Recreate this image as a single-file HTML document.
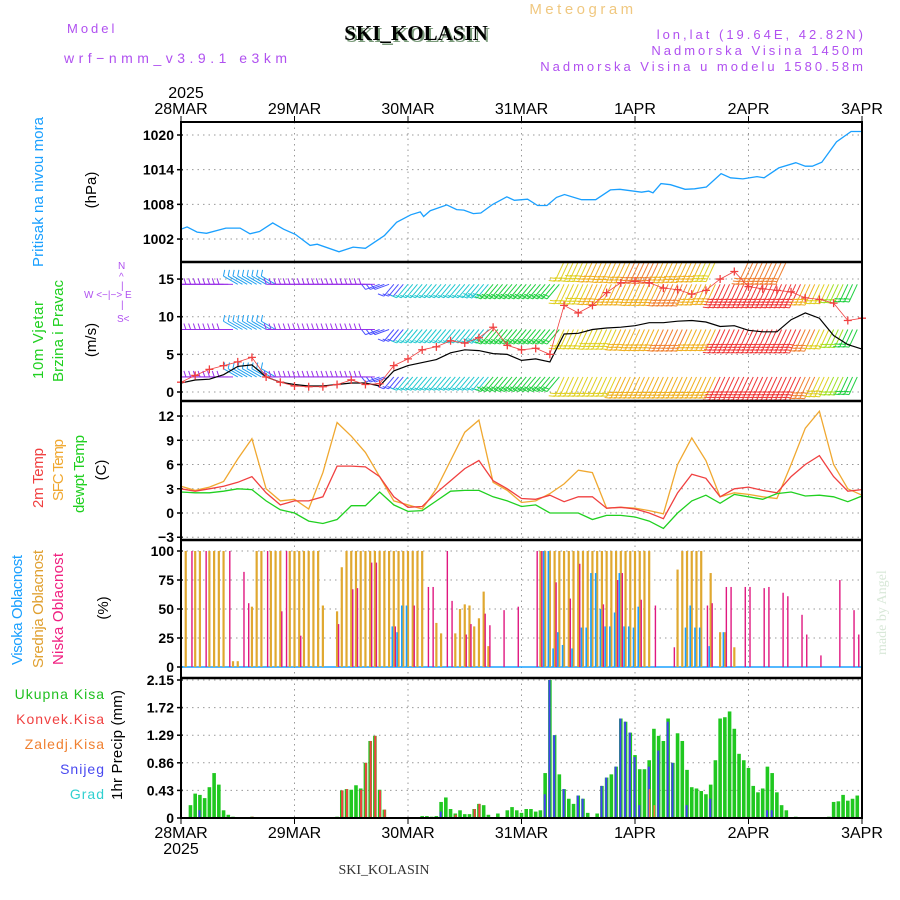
<!DOCTYPE html>
<html><head><meta charset="utf-8">
<style>
html,body{margin:0;padding:0;background:#fff;}
svg{display:block;font-family:"Liberation Sans",sans-serif;}
.hdr{font-family:"Liberation Sans",sans-serif;letter-spacing:3px;font-size:13px;fill:#b050f0;}
.tick{font-size:14px;fill:#000;text-anchor:end;font-weight:bold;}
.date{font-size:16px;fill:#000;text-anchor:middle;}
.grid{stroke:#999;stroke-width:1;stroke-dasharray:1.5,4;}
</style></head>
<body>
<svg id="chart" width="900" height="900" viewBox="0 0 900 900" xmlns="http://www.w3.org/2000/svg">
<text class="hdr" x="67" y="33">Model</text>
<text class="hdr" x="64" y="63" style="font-size:14px;letter-spacing:4.5px">wrf−nmm_v3.9.1 e3km</text>
<text x="418" y="42" text-anchor="middle" style="font-family:'Liberation Serif',serif;font-weight:bold;font-size:21px;fill:#7a9a7a">SKI_KOLASIN</text>
<text x="416" y="40" text-anchor="middle" style="font-family:'Liberation Serif',serif;font-weight:bold;font-size:21px;fill:#000">SKI_KOLASIN</text>
<text class="hdr" x="583" y="14" text-anchor="middle" style="fill:#f0c880;font-size:15px;letter-spacing:3.5px">Meteogram</text>
<text class="hdr" x="866" y="39" text-anchor="end">lon,lat (19.64E, 42.82N)</text>
<text class="hdr" x="866" y="55" text-anchor="end">Nadmorska Visina 1450m</text>
<text class="hdr" x="866" y="71" text-anchor="end">Nadmorska Visina u modelu 1580.58m</text>
<text x="186" y="98" class="date">2025</text>
<text x="384" y="874" text-anchor="middle" style="font-family:'Liberation Serif',serif;font-size:14px;fill:#333">SKI_KOLASIN</text>
<text transform="translate(886,655) rotate(-90)" style="font-family:'Liberation Serif',serif;font-size:14px;fill:#d8e8d8">made by Angel</text>
<g id="labels"></g>
<g id="plots"></g>
</svg>
<script>
// ---- DATA ----
const pHours=[0,1.3,3.4,5.4,9.5,12.5,14.6,16.6,19.4,21.7,24.2,27.3,28.8,33.4,36.4,39,43,45.6,48.6,50.6,51.3,52.7,56.2,58.3,59.8,61.8,63.4,65.9,68.9,70.5,73.3,75.4,77.4,79.4,81.1,84.7,87.7,90.8,92.8,97.4,98.9,99.8,101.5,103.5,106.6,108.6,111.1,114.2,116.2,118.8,121.8,123.3,126.4,130,132,133.5,135.5,138.6,141.7,144];
const pValues=[1003.7,1004.1,1003.2,1003.0,1003.9,1003.9,1002.9,1003.3,1004.8,1003.7,1002.8,1000.9,1001.1,999.8,1000.6,1000.4,1002.6,1004.9,1006.2,1006.7,1005.9,1006.9,1007.9,1007.1,1007.0,1006.4,1006.5,1008.0,1009.3,1008.7,1008.9,1007.8,1007.8,1009.2,1009.7,1008.8,1008.8,1010.5,1010.6,1010.1,1010.3,1010.0,1011.6,1011.4,1010.6,1010.7,1011.0,1013.3,1012.6,1012.4,1012.8,1012.6,1014.3,1015.2,1014.6,1014.6,1015.3,1018.8,1020.6,1020.6];
const pTicks=[1020,1014,1008,1002];
const dayLabels=["28MAR","29MAR","30MAR","31MAR","1APR","2APR","3APR"];
const sfcTemp=[3.3,2.8,3.2,3.9,6.7,9.2,3.0,1.5,1.7,0.5,5.0,11.2,9.5,7.5,4.5,1.5,1.0,0.5,3.0,6.5,10.0,11.5,3.8,2.8,1.3,1.5,2.4,3.6,5.3,5.0,0.6,0.7,0.6,0.3,-0.1,6.0,9.3,6.5,2.0,2.5,2.3,2.0,1.8,6.0,10.5,12.6,6.0,3.0,2.2];
const temp2m=[3.0,2.7,3.0,3.3,3.8,4.5,2.5,1.0,1.5,1.5,2.0,5.8,5.8,5.7,4.5,2.0,0.7,0.8,2.5,4.0,5.5,6.5,4.0,3.0,1.8,1.7,2.2,1.4,2.0,2.0,0.6,0.7,0.5,0.0,-0.7,2.5,4.8,4.3,2.0,3.0,3.2,2.8,2.5,4.5,6.0,7.1,4.5,2.7,2.9];
const dewTemp=[2.6,2.5,2.5,2.7,3.0,2.9,1.5,0.4,0.0,-1.0,-1.3,-0.8,0.9,0.9,2.6,1.0,0.2,0.3,1.5,2.7,2.8,2.8,2.0,1.5,0.8,1.0,0.0,0.0,0.0,-0.8,-0.3,-0.3,-0.5,-1.0,-1.9,0.0,1.5,2.2,1.2,2.3,2.0,1.7,2.4,2.6,2.1,2.2,2.0,1.4,2.1];
const tTicks=[12,9,6,3,0,-3];
const windSpeed=[1.2,1.6,1.7,2.3,3.4,3.6,2.0,1.3,1.0,0.8,0.8,1.0,1.2,1.2,0.8,2.8,3.5,3.9,4.3,5.2,5.6,5.5,5.1,5.0,4.2,4.4,4.0,7.7,7.8,8.3,8.5,8.6,8.8,9.2,9.2,9.4,9.5,9.3,8.7,8.8,8.2,8.0,8.0,9.6,10.5,9.8,7.5,6.3,5.7];
const windGust=[1.3,2.2,3.0,3.5,4.0,4.6,2.0,1.3,0.8,0.7,0.7,1.0,1.6,1.0,1.1,3.5,4.4,5.6,6.0,6.8,6.5,7.2,8.6,6.2,5.6,5.8,5.0,11.5,10.5,11.5,13.2,14.5,14.7,14.5,13.8,13.6,13.0,13.5,15.0,16.0,14.0,13.7,13.5,13.3,12.5,12.3,11.8,9.5,9.8];
const windDir=[270,270,270,270,300,300,300,270,270,270,270,270,270,270,250,220,220,220,220,220,220,220,220,220,220,220,220,205,205,205,205,205,205,205,205,205,205,205,205,205,205,205,205,205,205,205,205,205,205];
const barbSpeed10m=[2,2,2,2,4.5,4.5,4.5,2,2,2,2,2,2,2,3,3.5,5.5,5.5,5.5,5.5,5.5,5.5,7,7,7,7,7,9.5,9.5,9.5,9.5,11.5,11.5,11.5,11.5,11.5,11.5,11.5,14,14,14,14,14,14,12,10,8,7.5,7];
const barbSpeedMid=[2,2,2,2,4.5,4.5,4.5,2,2,2,2,2,2,2,3,3.5,5.5,5.5,5.5,5.5,5.5,6,7,7,7,7,7,9.5,9.5,10,10,11,11.5,11.5,12,12,11.5,11.5,14,14,14,14,14,14,12,9.5,8,7.5,7];
const barbSpeedHigh=[2,2,2,2,4.5,4.5,4.5,2,2,2,2,2,2,2,3,3.5,5.5,5.5,5.5,5.5,5.5,6,7,7,7,7,7,9.5,10,10.5,11,11,11.5,11.5,12,12,11,10.5,14,14,14,14,14,14,11,9.5,8.5,7.5,7];
const barbSpeedTop=[0,0,0,0,0,0,0,0,0,0,0,0,0,0,0,0,0,0,0,0,0,0,0,0,0,0,0,9.5,10,10.5,11,11.5,12,12,11.5,11,10.5,10,0,0,13,13,13,0,0,0,0,0,0];
const barbLevels=[2,8.3,14.3,17.3];
const wTicks=[15,10,5,0];
const cloudHighHours=[45,46,47,48,77,78,79,80,81,83,85,86,87,88,89,90,91,92,93,94,95,96,97,107,108,109,110,112,115];
const cloudHighValues=[35,30,53,53,100,100,16,30,19,16,34,34,81,81,50,35,35,47,81,35,35,34,52,34,53,34,34,18,30];
const cloudMidHours=[1,3,4,6,7,8,9,11,12,15,16,17,19,20,21,23,24,25,26,27,28,29,30,33,34,35,36,37,38,39,40,41,42,43,44,45,46,47,48,49,50,51,54,55,58,59,60,61,62,63,64,65,76,77,78,79,80,81,82,83,84,85,86,87,88,89,90,91,92,93,94,95,96,97,98,99,105,106,107,108,109,110,112,114,115,117];
const cloudMidValues=[100,100,100,100,100,100,100,5,5,52,100,100,100,100,100,100,100,100,100,100,100,100,53,48,86,100,100,100,100,100,100,100,100,100,100,100,100,100,100,100,100,100,38,29,29,50,54,53,35,42,65,18,100,100,100,100,100,100,100,100,100,100,100,100,100,100,100,100,100,100,100,100,100,100,100,100,84,100,100,100,100,100,81,30,30,17];
const cloudLowHours=[2,5,10,13,14,18,21,22,25,33,36,37,40,41,45,49,52,53,56,57,60,61,64,65,68,71,75,76,79,82,84,89,92,93,97,100,104,111,112,115,116,119,120,123,124,127,128,131,132,135,139,142,143];
const cloudLowValues=[100,100,100,82,55,100,48,100,27,37,67,68,90,90,35,53,69,69,100,57,28,37,46,36,49,52,100,100,73,59,89,54,75,81,58,53,17,53,55,69,69,69,69,68,69,64,61,45,28,10,75,49,28];
const cTicks=[100,75,50,25,0];
const precipHours=[2,3,4,5,6,7,8,9,10,11,15,33,34,35,36,37,38,39,40,41,42,43,51,52,53,54,55,56,57,58,59,60,61,62,63,64,65,67,69,70,71,72,73,74,75,76,77,78,79,80,81,82,83,84,85,86,88,89,90,91,92,93,94,95,96,97,98,99,100,101,102,103,104,105,106,107,108,109,110,111,112,113,114,115,116,117,118,119,120,121,122,123,124,125,126,127,128,130,137,138,139,140,141,142,143];
const precipTotal=[0.2,0.38,0.36,0.31,0.48,0.70,0.52,0.12,0.05,0.02,0.02,0.02,0.43,0.45,0.44,0.51,0.46,0.86,1.2,1.28,0.44,0.13,0.03,0.03,0.02,0.03,0.25,0.32,0.14,0.07,0.12,0.06,0.06,0.14,0.22,0.2,0.05,0.07,0.12,0.17,0.12,0.08,0.14,0.14,0.1,0.12,0.7,2.15,1.29,0.68,0.45,0.3,0.22,0.35,0.3,0.08,0.07,0.5,0.63,0.68,0.8,1.55,1.5,1.33,0.98,0.76,0.76,0.9,1.39,1.28,1.2,1.55,0.86,1.32,1.2,0.75,0.48,0.46,0.42,0.37,0.52,0.9,1.55,1.57,1.66,1.39,1.0,0.9,0.78,0.5,0.4,0.46,0.8,0.7,0.4,0.2,0.12,0.02,0.02,0.25,0.26,0.36,0.27,0.3,0.35];
const snowHours=[4,55,77,78,79,81,84,85,89,90,92,93,94,95,96,97,99,101,103,104,107,112,124,125];
const snowValues=[0.12,0.1,0.37,2.15,1.29,0.45,0.35,0.3,0.5,0.63,0.8,1.55,1.5,1.33,0.95,0.2,0.8,1.05,1.5,0.86,0.2,0.3,0.12,0.12];
const convHours=[15,34,35,38,39,40,41,42,43,58,62,63];
const convValues=[0.02,0.43,0.45,0.44,0.86,1.2,1.28,0.43,0.13,0.05,0.14,0.22];
const frzHours=[99,100];
const frzValues=[0.45,0.2];
const prTicks=["2.15","1.72","1.29","0.86","0.43","0"];

// ---- SCALES ----
const X0=181,X1=862;
const xS=h=>X0+h*(X1-X0)/144;
const yP=p=>135+(1020-p)*5.78;
const yW=v=>392-v*7.53;
const yT=t=>513-t*8.08;
const yC=c=>667-c*1.16;
const yR=p=>818-p*(138/2.15);
const panels=[[122,262],[262,401],[401,540],[540,678],[678,818]];
const NS="http://www.w3.org/2000/svg";
const plots=document.getElementById('plots');
const labels=document.getElementById('labels');
function mk(tag,attrs,parent){const e=document.createElementNS(NS,tag);for(const k in attrs)e.setAttribute(k,attrs[k]);(parent||plots).appendChild(e);return e;}
function txt(s,attrs,parent){const e=mk('text',attrs,parent);e.textContent=s;return e;}
const hours3=[];for(let i=0;i<49;i++)hours3.push(i*3);

const grid=mk('g',{});


panels.forEach(p=>{for(let d=1;d<6;d++){mk('line',{x1:xS(d*24),x2:xS(d*24),y1:p[0],y2:p[1],class:'grid'},grid);}});
function hgrid(vals,f,top,bot){vals.forEach(v=>{const y=f(v);if(y>top+1&&y<bot-1)mk('line',{x1:X0,x2:X1,y1:y,y2:y,class:'grid'},grid);});}
hgrid(pTicks,yP,122,262);hgrid(wTicks,yW,262,401);hgrid(tTicks,yT,401,540);hgrid(cTicks,yC,540,678);hgrid(prTicks.map(Number),yR,678,818);

function ticks(vals,f,name,fmt){vals.forEach(v=>{const y=f(Number(v));const t=txt(fmt?fmt(v):String(v),{x:174,y:y+5,class:'tick'},labels);


mk('line',{x1:177,x2:183,y1:y,y2:y,stroke:'#000','stroke-width':1.5},labels);});}
ticks(pTicks,yP,'pressure');ticks(wTicks,yW,'wind');ticks(tTicks,yT,'temp',v=>v<0?'−'+(-v):String(v));ticks(cTicks,yC,'cloud');ticks(prTicks,yR,'precip');
dayLabels.forEach((d,i)=>{const x=xS(i*24);
const a=txt(d,{x:x,y:114,class:'date'},labels);


const b=txt(d,{x:x,y:838,class:'date'},labels);


mk('line',{x1:x,x2:x,y1:116,y2:122,stroke:'#000'},labels);mk('line',{x1:x,x2:x,y1:818,y2:824,stroke:'#000'},labels);});
const by=txt('2025',{x:181,y:854,class:'date'},labels);



function rot(s,x,y,color,name,size,len){const t=txt(s,{transform:`translate(${x},${y}) rotate(-90)`,'text-anchor':'middle',fill:color,'font-size':size||15},labels);if(len)t.setAttribute('textLength',len);

}
rot('Pritisak na nivou mora',43,192,'#1aa0ff','pressure-axis-title',15,150);
rot('(hPa)',96,190,'#000','pressure-unit');
rot('10m Vjetar',43,340,'#20d020','wind-axis-title',15,78);
rot('Brzina i Pravac',63,331,'#20d020','wind-axis-subtitle',15,102);
rot('(m/s)',96,340,'#000','wind-unit');
rot('2m Temp',43,478,'#f04040','temp2m-axis-title',15,60);
rot('SFC Temp',63,470,'#f0a830','sfc-temp-axis-title',15,62);
rot('dewpt Temp',84,474,'#20d020','dewpt-axis-title',15,78);
rot('(C)',106,470,'#000','temp-unit');
rot('Visoka Oblacnost',22,610,'#1aa0ff','high-cloud-axis-title',15,110);
rot('Srednja Oblacnost',43,609,'#e0a030','mid-cloud-axis-title',15,118);
rot('Niska Oblacnost',63,609,'#f02080','low-cloud-axis-title',15,112);
rot('(%)',108,608,'#000','cloud-unit');
rot('1hr Precip (mm)',122,745,'#000','precip-axis-title',15,110);
[['Ukupna  Kisa','#20c020',699],['Konvek.Kisa','#f04040',724],['Zaledj.Kisa','#f08030',749],['Snijeg','#4848f0',774],['Grad','#30d0d0',799]].forEach(([s,c,y])=>{const t=txt(s,{x:105,y:y,'text-anchor':'end',fill:c,'font-size':14,'letter-spacing':'1'},labels);

});
const cp=mk('g',{fill:'#b050f0','font-size':10},labels);


txt('N',{x:118,y:269},cp);txt('^',{x:119,y:280},cp);txt('|',{x:121,y:289},cp);
txt('W   <−|−>   E',{x:84,y:298},cp);txt('|',{x:121,y:308},cp);txt('S<',{x:117,y:322},cp);

function pathFrom(xs,ys,fx,fy){return xs.map((h,i)=>(i?'L':'M')+fx(h).toFixed(1)+','+fy(ys[i]).toFixed(1)).join('');}
const pl=mk('path',{d:pathFrom(pHours,pValues,xS,yP),fill:'none',stroke:'#1aa0ff','stroke-width':1.3});



function barbColor(s){return s<3?'#9a30e8':s<4?'#4a50ff':s<5?'#20a0f0':s<6.5?'#20c8d0':s<8?'#20d040':s<9?'#a0e020':s<10.5?'#e0d020':s<12?'#f0b020':s<13.5?'#f08030':'#f03838';}
const wclip=mk('clipPath',{id:'wclip'});mk('rect',{x:X0,y:263,width:X1-X0,height:138},wclip);
const barbs=mk('g',{'clip-path':'url(#wclip)'});


[barbSpeed10m,barbSpeedMid,barbSpeedHigh,barbSpeedTop].forEach((arr,r)=>{
 for(let i=0;i<48;i++){for(let k=0;k<3;k++){
  const s=arr[i];if(!s)continue;const d=windDir[i]*Math.PI/180;
  const h=i*3+k;const x=xS(h),y=yW(barbLevels[r]);
  const len=s<3?14:12+s*1.0;const dx=Math.sin(d)*len,dy=-Math.cos(d)*len;
  const col=barbColor(s);
  const g=mk('g',{stroke:col,'stroke-width':1},barbs);
  mk('line',{x1:x,y1:y,x2:x+dx,y2:y+dy},g);
  const nf=Math.max(1,Math.round(s/4));const ux=dx/len,uy=dy/len;
  for(let f=0;f<nf;f++){const bx=x+dx-ux*f*3,by2=y+dy-uy*f*3;
   mk('line',{x1:bx,y1:by2,x2:bx-uy*6+ux*2,y2:by2+ux*6+uy*2},g);}
 }}
});
const wl=mk('path',{d:pathFrom(hours3,windSpeed,xS,yW),fill:'none',stroke:'#000','stroke-width':1.2});


const gl=mk('path',{d:pathFrom(hours3,windGust,xS,yW),fill:'none',stroke:'#f04040','stroke-width':0.8});


hours3.forEach((h,i)=>{const x=xS(h),y=yW(windGust[i]);const m=mk('path',{d:`M${x-4},${y}H${x+4}M${x},${y-4}V${y+4}`,stroke:'#f04040','stroke-width':1.3});

});

[[sfcTemp,'#f0a830','sfc-temp-line'],[temp2m,'#f04040','temp-2m-line'],[dewTemp,'#20d020','dewpoint-line']].forEach(([a,c,n])=>{
 const e=mk('path',{d:pathFrom(hours3,a,xS,yT),fill:'none',stroke:c,'stroke-width':1.3});
 
 });

mk('line',{x1:X0,x2:X1,y1:yC(0),y2:yC(0),stroke:'#1aa0ff','stroke-width':1.5});
function bars(hs,vs,fy,color,off,w,name){hs.forEach((h,i)=>{const x=xS(h)+off;const y=fy(vs[i]);const r=mk('rect',{x:x-w/2,y:y,width:w,height:Math.max(0,fy(0)-y),fill:color});

});}
bars(cloudMidHours,cloudMidValues,yC,'#e0a830',0,2.2,'mid-cloud-bar');
bars(cloudLowHours,cloudLowValues,yC,'#e01880',1.5,1.4,'low-cloud-bar');
bars(cloudHighHours,cloudHighValues,yC,'#1aa0ff',-1.5,1.6,'high-cloud-bar');

bars(precipHours,precipTotal,yR,'#20c820',0,3.6,'total-precip-bar');
bars(snowHours,snowValues,yR,'#4040f0',-0.4,2,'snow-bar');
bars(convHours,convValues,yR,'#f04040',0.4,2,'convective-bar');
bars(frzHours,frzValues,yR,'#f08030',0.4,1.6,'freezing-bar');

const fr=mk('g',{});


mk('rect',{x:X0,y:122,width:X1-X0,height:696,fill:'none',stroke:'#000','stroke-width':2},fr);
[262,401,540,678].forEach(y=>mk('line',{x1:X0,x2:X1,y1:y,y2:y,stroke:'#000','stroke-width':2.5},fr));
</script>
</body></html>
